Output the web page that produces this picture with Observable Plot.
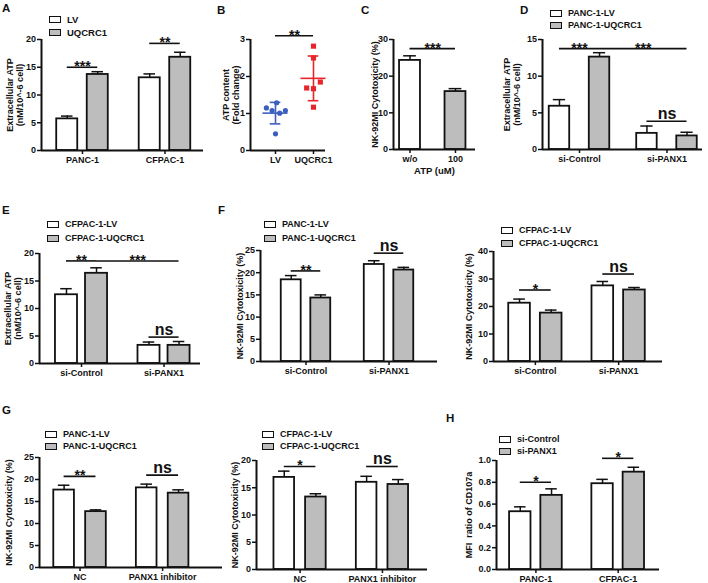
<!DOCTYPE html>
<html><head><meta charset="utf-8">
<script src="https://cdn.jsdelivr.net/npm/d3@7"></script>
<script src="https://cdn.jsdelivr.net/npm/@observablehq/plot@0.6"></script>
<style>
body{margin:0;background:#fff;}
#fig{position:relative;width:708px;height:583px;font-family:"Liberation Sans",Arial,sans-serif;font-weight:bold;color:#111;overflow:hidden;background:#fff}
.panel{position:absolute}
.letter{position:absolute;font-size:11.5px;font-weight:bold;line-height:1}
.leg{position:absolute;display:flex;align-items:center;white-space:nowrap;line-height:1}
.sw{display:inline-block;box-sizing:border-box;width:12px;height:7px;border:1.5px solid #111;margin-right:6px}
</style></head><body><div id="fig"></div>
<script>
// ---------------- DATA ----------------
// A
const aGroups = ["PANC-1", "CFPAC-1"];
const aSeries = ["LV", "UQCRC1"];
const aMean = [[5.7, 13.7], [13.1, 16.8]];
const aErr = [[0.5, 0.5], [0.7, 0.9]];
const aSig = [{a:[0,0], b:[0,1], y:15, t:"***"}, {a:[1,0], b:[1,1], y:19.3, t:"**"}];
const aTicks = [0, 5, 10, 15, 20];
// B
const bCats = ["LV", "UQCRC1"];
const bLV = [1.15, 1.08, 1.29, 1.01, 1.08, 0.45];
const bLVjit = [-0.24, -0.09, 0.03, 0.11, 0.26, 0];
const bUQ = [2.82, 2.5, 1.85, 1.69, 1.67, 1.17];
const bUQjit = [0, 0, 0.18, -0.18, 0, 0];
const bSig = [{a:0, b:1, y:3.1, t:"**"}];
const bTicks = [0, 1, 2, 3];
// C
const cGroups = ["w/o", "100"];
const cSeries = ["ATP"];
const cMean = [[24.3], [15.8]];
const cErr = [[1.25], [0.8]];
const cSig = [{a:[0,0], b:[1,0], y:27.5, t:"***"}];
const cTicks = [0, 10, 20, 30];
// D
const dGroups = ["si-Control", "si-PANX1"];
const dSeries = ["PANC-1-LV", "PANC-1-UQCRC1"];
const dMean = [[5.9, 12.6], [2.2, 1.85]];
const dErr = [[0.9, 0.6], [1.0, 0.5]];
const dSig = [{a:[0,0], b:[0,1], y:13.75, t:"***"}, {a:[0,1], b:[1,1], y:13.75, t:"***"}, {a:[1,0], b:[1,1], y:3.86, t:"ns"}];
const dTicks = [0, 5, 10, 15];
// E
const eGroups = ["si-Control", "si-PANX1"];
const eSeries = ["CFPAC-1-LV", "CFPAC-1-UQCRC1"];
const eMean = [[12.5, 16.4], [3.3, 3.3]];
const eErr = [[1.1, 1.0], [0.6, 0.7]];
const eSig = [{a:[0,0], b:[0,1], y:18.65, t:"**"}, {a:[0,1], b:[1,1], y:18.65, t:"***"}, {a:[1,0], b:[1,1], y:4.8, t:"ns"}];
const eTicks = [0, 5, 10, 15, 20];
// F left
const f1Groups = ["si-Control", "si-PANX1"];
const f1Series = ["PANC-1-LV", "PANC-1-UQCRC1"];
const f1Mean = [[18.4, 14.3], [21.85, 20.6]];
const f1Err = [[0.95, 0.7], [0.85, 0.6]];
const f1Sig = [{a:[0,0], b:[0,1], y:20.4, t:"**"}, {a:[1,0], b:[1,1], y:24.4, t:"ns"}];
const f1Ticks = [0, 5, 10, 15, 20, 25];
// F right
const f2Groups = ["si-Control", "si-PANX1"];
const f2Series = ["CFPAC-1-LV", "CFPAC-1-UQCRC1"];
const f2Mean = [[21.2, 17.6], [27.5, 26.0]];
const f2Err = [[1.5, 1.1], [1.6, 0.9]];
const f2Sig = [{a:[0,0], b:[0,1], y:26.0, t:"*"}, {a:[1,0], b:[1,1], y:31.8, t:"ns"}];
const f2Ticks = [0, 10, 20, 30, 40];
// G left
const g1Groups = ["NC", "PANX1 inhibitor"];
const g1Series = ["PANC-1-LV", "PANC-1-UQCRC1"];
const g1Mean = [[17.6, 12.7], [18.1, 16.9]];
const g1Err = [[1.1, 0.4], [0.85, 0.75]];
const g1Sig = [{a:[0,0], b:[0,1], y:20.7, t:"**"}, {a:[1,0], b:[1,1], y:21.0, t:"ns"}];
const g1Ticks = [0, 5, 10, 15, 20, 25];
// G right
const g2Groups = ["NC", "PANX1 inhibitor"];
const g2Series = ["CFPAC-1-LV", "CFPAC-1-UQCRC1"];
const g2Mean = [[16.9, 13.3], [16.0, 15.6]];
const g2Err = [[1.15, 0.6], [1.1, 0.9]];
const g2Sig = [{a:[0,0], b:[0,1], y:18.9, t:"*"}, {a:[1,0], b:[1,1], y:18.9, t:"ns"}];
const g2Ticks = [0, 5, 10, 15, 20];
// H
const hGroups = ["PANC-1", "CFPAC-1"];
const hSeries = ["si-Control", "si-PANX1"];
const hMean = [[0.53, 0.68], [0.787, 0.893]];
const hErr = [[0.045, 0.06], [0.04, 0.045]];
const hSig = [{a:[0,0], b:[0,1], y:0.80, t:"*"}, {a:[1,0], b:[1,1], y:1.02, t:"*"}];
const hTicks = [0, 0.2, 0.4, 0.6, 0.8, 1.0];

// ---------------- STYLE / LAYOUT ----------------
const FILLS = ["#ffffff", "#bdbdbd"];
const INK = "#111111";
const BLUE = "#3c5fbf";
const RED = "#e6262b";
const FONT = "'Liberation Sans', Arial, sans-serif";
const fig = document.getElementById("fig");

function place(node, box) {
  const w = document.createElement("div");
  w.className = "panel";
  w.style.left = box.x + "px"; w.style.top = box.y + "px";
  w.style.width = box.w + "px"; w.style.height = box.h + "px";
  w.appendChild(node);
  fig.appendChild(w);
}
function margins(box, fr) {
  return {width: box.w, height: box.h, marginLeft: fr.l - box.x, marginRight: box.x + box.w - fr.r,
          marginTop: fr.t - box.y, marginBottom: box.y + box.h - fr.b};
}
const baseStyle = {background: "transparent", overflow: "visible", fontFamily: FONT, fontSize: "9px", fontWeight: "bold", color: INK};

function sigMarks(sig) {
  const stars = sig.filter(s => s.t !== "ns"), ns = sig.filter(s => s.t === "ns");
  return [
    Plot.ruleY(sig, {y: "y", x1: "x1", x2: "x2", stroke: INK, strokeWidth: 1.6}),
    Plot.text(stars, {x: d => (d.x1 + d.x2) / 2, y: "y", text: "t", lineAnchor: "bottom", dy: 4, fontSize: 14, fill: INK}),
    Plot.text(ns, {x: d => (d.x1 + d.x2) / 2, y: "y", text: "t", lineAnchor: "bottom", dy: -2, fontSize: 16, fill: INK})
  ];
}
function yTitleMark(title, dx, lh) {
  return Plot.text([title], {frameAnchor: "left", textAnchor: "middle", lineAnchor: "middle", rotate: -90, dx, fontSize: 9, lineHeight: lh || 1.15, fill: INK});
}

function barPanel(P, L) {
  const multi = P.series.length > 1;
  const bars = [];
  P.groups.forEach((g, gi) => P.mean[gi].forEach((v, si) => {
    bars.push({gi, si, v, e: P.err[gi][si],
      c: multi ? gi + (si - 0.5) * 2 * L.off : gi,
      fill: multi ? FILLS[si] : FILLS[gi]});
  }));
  const cx = k => bars.find(b => b.gi === k[0] && b.si === k[1]).c;
  const sig = P.sig.map(s => ({x1: cx(s.a), x2: cx(s.b), y: s.y, t: s.t}));
  const yMax = P.yTicks[P.yTicks.length - 1];
  const marks = [
    Plot.rect(bars, {x1: d => d.c - L.bw / 2, x2: d => d.c + L.bw / 2, y1: 0, y2: "v", fill: "fill", stroke: INK, strokeWidth: 1.8}),
    Plot.ruleX(bars, {x: "c", y1: "v", y2: d => d.v + d.e, stroke: INK, strokeWidth: 1.5}),
    Plot.ruleY(bars, {y: d => d.v + d.e, x1: d => d.c - L.cap, x2: d => d.c + L.cap, stroke: INK, strokeWidth: 1.5}),
    Plot.ruleX([L.xDomain[0]], {stroke: INK, strokeWidth: 2}),
    Plot.ruleY([0], {stroke: INK, strokeWidth: 2}),
    Plot.axisY(P.yTicks, {tickSize: 4, tickPadding: 1.5, tickFormat: P.yFmt || (d => d), label: null, stroke: INK, strokeWidth: 1.5, fill: INK}),
    Plot.axisX(P.groups.map((g, i) => i), {tickSize: 4, tickPadding: 2, tickFormat: i => P.groups[i], label: null, stroke: INK, strokeWidth: 1.5, fill: INK}),
    ...sigMarks(sig),
    yTitleMark(P.yTitle, L.titleDx)
  ];
  if (P.xTitle) marks.push(Plot.text([P.xTitle], {frameAnchor: "bottom", dy: L.xTitleDy, fontSize: 9.5, fill: INK}));
  const plot = Plot.plot({
    ...margins(L.box, L.frame),
    style: baseStyle,
    x: {type: "linear", domain: L.xDomain, axis: null},
    y: {domain: [0, yMax], axis: null},
    marks
  });
  place(plot, L.box);
  if (L.legend) legend(P.series, L.legend);
}

function legend(series, lg) {
  series.forEach((s, i) => {
    const d = document.createElement("div");
    d.className = "leg";
    d.style.left = lg.x + "px";
    d.style.top = (lg.rows[i] - 6) + "px";
    d.style.height = "12px";
    d.style.fontSize = (lg.font || 9) + "px";
    const sw = document.createElement("span");
    sw.className = "sw"; sw.style.background = FILLS[i];
    const t = document.createElement("span"); t.textContent = s;
    d.appendChild(sw); d.appendChild(t);
    fig.appendChild(d);
  });
}
function letter(t, x, y) {
  const d = document.createElement("div");
  d.className = "letter"; d.style.left = x + "px"; d.style.top = y + "px"; d.textContent = t;
  fig.appendChild(d);
}

const ATP_TITLE = "Extracellular ATP\n(nM/10^-6 cell)";
const NK_TITLE = "NK-92MI Cytotoxicity (%)";

// A
barPanel({groups: aGroups, series: aSeries, mean: aMean, err: aErr, sig: aSig, yTicks: aTicks, yTitle: ATP_TITLE},
  {box: {x:0, y:0, w:210, h:182}, frame: {l:41, r:203, t:39, b:150}, xDomain: [-0.497, 1.467], off: 0.185, bw: 0.255, cap: 0.07, titleDx: -27,
   legend: {x: 49, rows: [19.5, 32.5], font: 9.5}});

// B
(function () {
  const box = {x:212, y:0, w:118, h:182}, frame = {l:250, r:325, t:39, b:150};
  const xDomain = [-0.658, 1.316];
  const pts = [...bLV.map((v, i) => ({x: 0 + bLVjit[i], v, k: 0})), ...bUQ.map((v, i) => ({x: 1 + bUQjit[i], v, k: 1}))];
  const stats = [bLV, bUQ].map((arr, k) => ({c: k, m: d3.mean(arr), sd: d3.deviation(arr), col: k ? RED : BLUE}));
  const sig = bSig.map(s => ({x1: s.a, x2: s.b, y: s.y, t: s.t}));
  const plot = Plot.plot({
    ...margins(box, frame), style: baseStyle,
    x: {type: "linear", domain: xDomain, axis: null},
    y: {domain: [0, 3], axis: null},
    marks: [
      Plot.ruleX([xDomain[0]], {stroke: INK, strokeWidth: 2}),
      Plot.ruleY([0], {stroke: INK, strokeWidth: 2}),
      Plot.axisY(bTicks, {tickSize: 4, tickPadding: 1.5, label: null, stroke: INK, strokeWidth: 1.5, fill: INK}),
      Plot.axisX([0, 1], {tickSize: 4, tickPadding: 2, tickFormat: i => bCats[i], label: null, stroke: INK, strokeWidth: 1.5, fill: INK}),
      Plot.dot(pts.filter(p => p.k === 0), {x: "x", y: "v", r: 2.6, fill: BLUE, stroke: "none"}),
      Plot.dot(pts.filter(p => p.k === 1), {x: "x", y: "v", r: 2.9, symbol: "square", fill: RED, stroke: "none"}),
      Plot.ruleY(stats, {y: "m", x1: d => d.c - 0.33, x2: d => d.c + 0.33, stroke: "col", strokeWidth: 1.6}),
      Plot.ruleX(stats, {x: "c", y1: d => d.m - d.sd, y2: d => d.m + d.sd, stroke: "col", strokeWidth: 1.6}),
      Plot.ruleY(stats, {y: d => d.m + d.sd, x1: d => d.c - 0.14, x2: d => d.c + 0.14, stroke: "col", strokeWidth: 1.6}),
      Plot.ruleY(stats, {y: d => d.m - d.sd, x1: d => d.c - 0.14, x2: d => d.c + 0.14, stroke: "col", strokeWidth: 1.6}),
      ...sigMarks(sig),
      yTitleMark("ATP content\n(Fold change)", -20, 1.1)
    ]
  });
  place(plot, box);
})();

// C
barPanel({groups: cGroups, series: cSeries, mean: cMean, err: cErr, sig: cSig, yTicks: cTicks, yTitle: NK_TITLE, xTitle: "ATP (uM)"},
  {box: {x:352, y:0, w:128, h:185}, frame: {l:393, r:475, t:39, b:149}, xDomain: [-0.363, 1.44], bw: 0.46, cap: 0.14, titleDx: -19, xTitleDy: 24});

// D
barPanel({groups: dGroups, series: dSeries, mean: dMean, err: dErr, sig: dSig, yTicks: dTicks, yTitle: ATP_TITLE},
  {box: {x:495, y:0, w:213, h:182}, frame: {l:542, r:702, t:39, b:149}, xDomain: [-0.423, 1.406], off: 0.229, bw: 0.234, cap: 0.07, titleDx: -31,
   legend: {x: 550, rows: [13.5, 25]}});

// E
barPanel({groups: eGroups, series: eSeries, mean: eMean, err: eErr, sig: eSig, yTicks: eTicks, yTitle: ATP_TITLE},
  {box: {x:0, y:190, w:212, h:195}, frame: {l:39, r:200, t:253, b:363}, xDomain: [-0.509, 1.442], off: 0.182, bw: 0.267, cap: 0.07, titleDx: -27,
   legend: {x: 47, rows: [224.5, 238]}});

// F left
barPanel({groups: f1Groups, series: f1Series, mean: f1Mean, err: f1Err, sig: f1Sig, yTicks: f1Ticks, yTitle: NK_TITLE},
  {box: {x:214, y:190, w:228, h:195}, frame: {l:260, r:437, t:250, b:361}, xDomain: [-0.548, 1.584], off: 0.178, bw: 0.24, cap: 0.07, titleDx: -21,
   legend: {x: 264, rows: [224, 238]}});

// F right
barPanel({groups: f2Groups, series: f2Series, mean: f2Mean, err: f2Err, sig: f2Sig, yTicks: f2Ticks, yTitle: NK_TITLE},
  {box: {x:445, y:190, w:263, h:195}, frame: {l:493, r:662, t:251, b:361}, xDomain: [-0.503, 1.527], off: 0.19, bw: 0.26, cap: 0.07, titleDx: -25,
   legend: {x: 501, rows: [230.7, 243.3]}});

// G left
barPanel({groups: g1Groups, series: g1Series, mean: g1Mean, err: g1Err, sig: g1Sig, yTicks: g1Ticks, yTitle: NK_TITLE},
  {box: {x:0, y:385, w:228, h:198}, frame: {l:39, r:222, t:457, b:567}, xDomain: [-0.491, 1.725], off: 0.193, bw: 0.25, cap: 0.07, titleDx: -31,
   legend: {x: 45, rows: [434, 446]}});

// G right
barPanel({groups: g2Groups, series: g2Series, mean: g2Mean, err: g2Err, sig: g2Sig, yTicks: g2Ticks, yTitle: NK_TITLE},
  {box: {x:225, y:385, w:215, h:198}, frame: {l:256, r:427, t:460, b:569}, xDomain: [-0.529, 1.547], off: 0.192, bw: 0.25, cap: 0.07, titleDx: -22,
   legend: {x: 262, rows: [434.3, 446.7]}});

// H
barPanel({groups: hGroups, series: hSeries, mean: hMean, err: hErr, sig: hSig, yTicks: hTicks, yFmt: d3.format(".1f"), yTitle: "MFI  ratio of CD107a"},
  {box: {x:440, y:385, w:268, h:198}, frame: {l:496, r:659, t:460, b:569}, xDomain: [-0.479, 1.502], off: 0.19, bw: 0.26, cap: 0.07, titleDx: -28,
   legend: {x: 499, rows: [439.3, 451.7]}});

// panel letters
letter("A", 2, 3); letter("B", 217, 5); letter("C", 361, 5); letter("D", 520, 5);
letter("E", 2, 205); letter("F", 218, 205); letter("G", 2, 405); letter("H", 446, 413);
</script></body></html>
